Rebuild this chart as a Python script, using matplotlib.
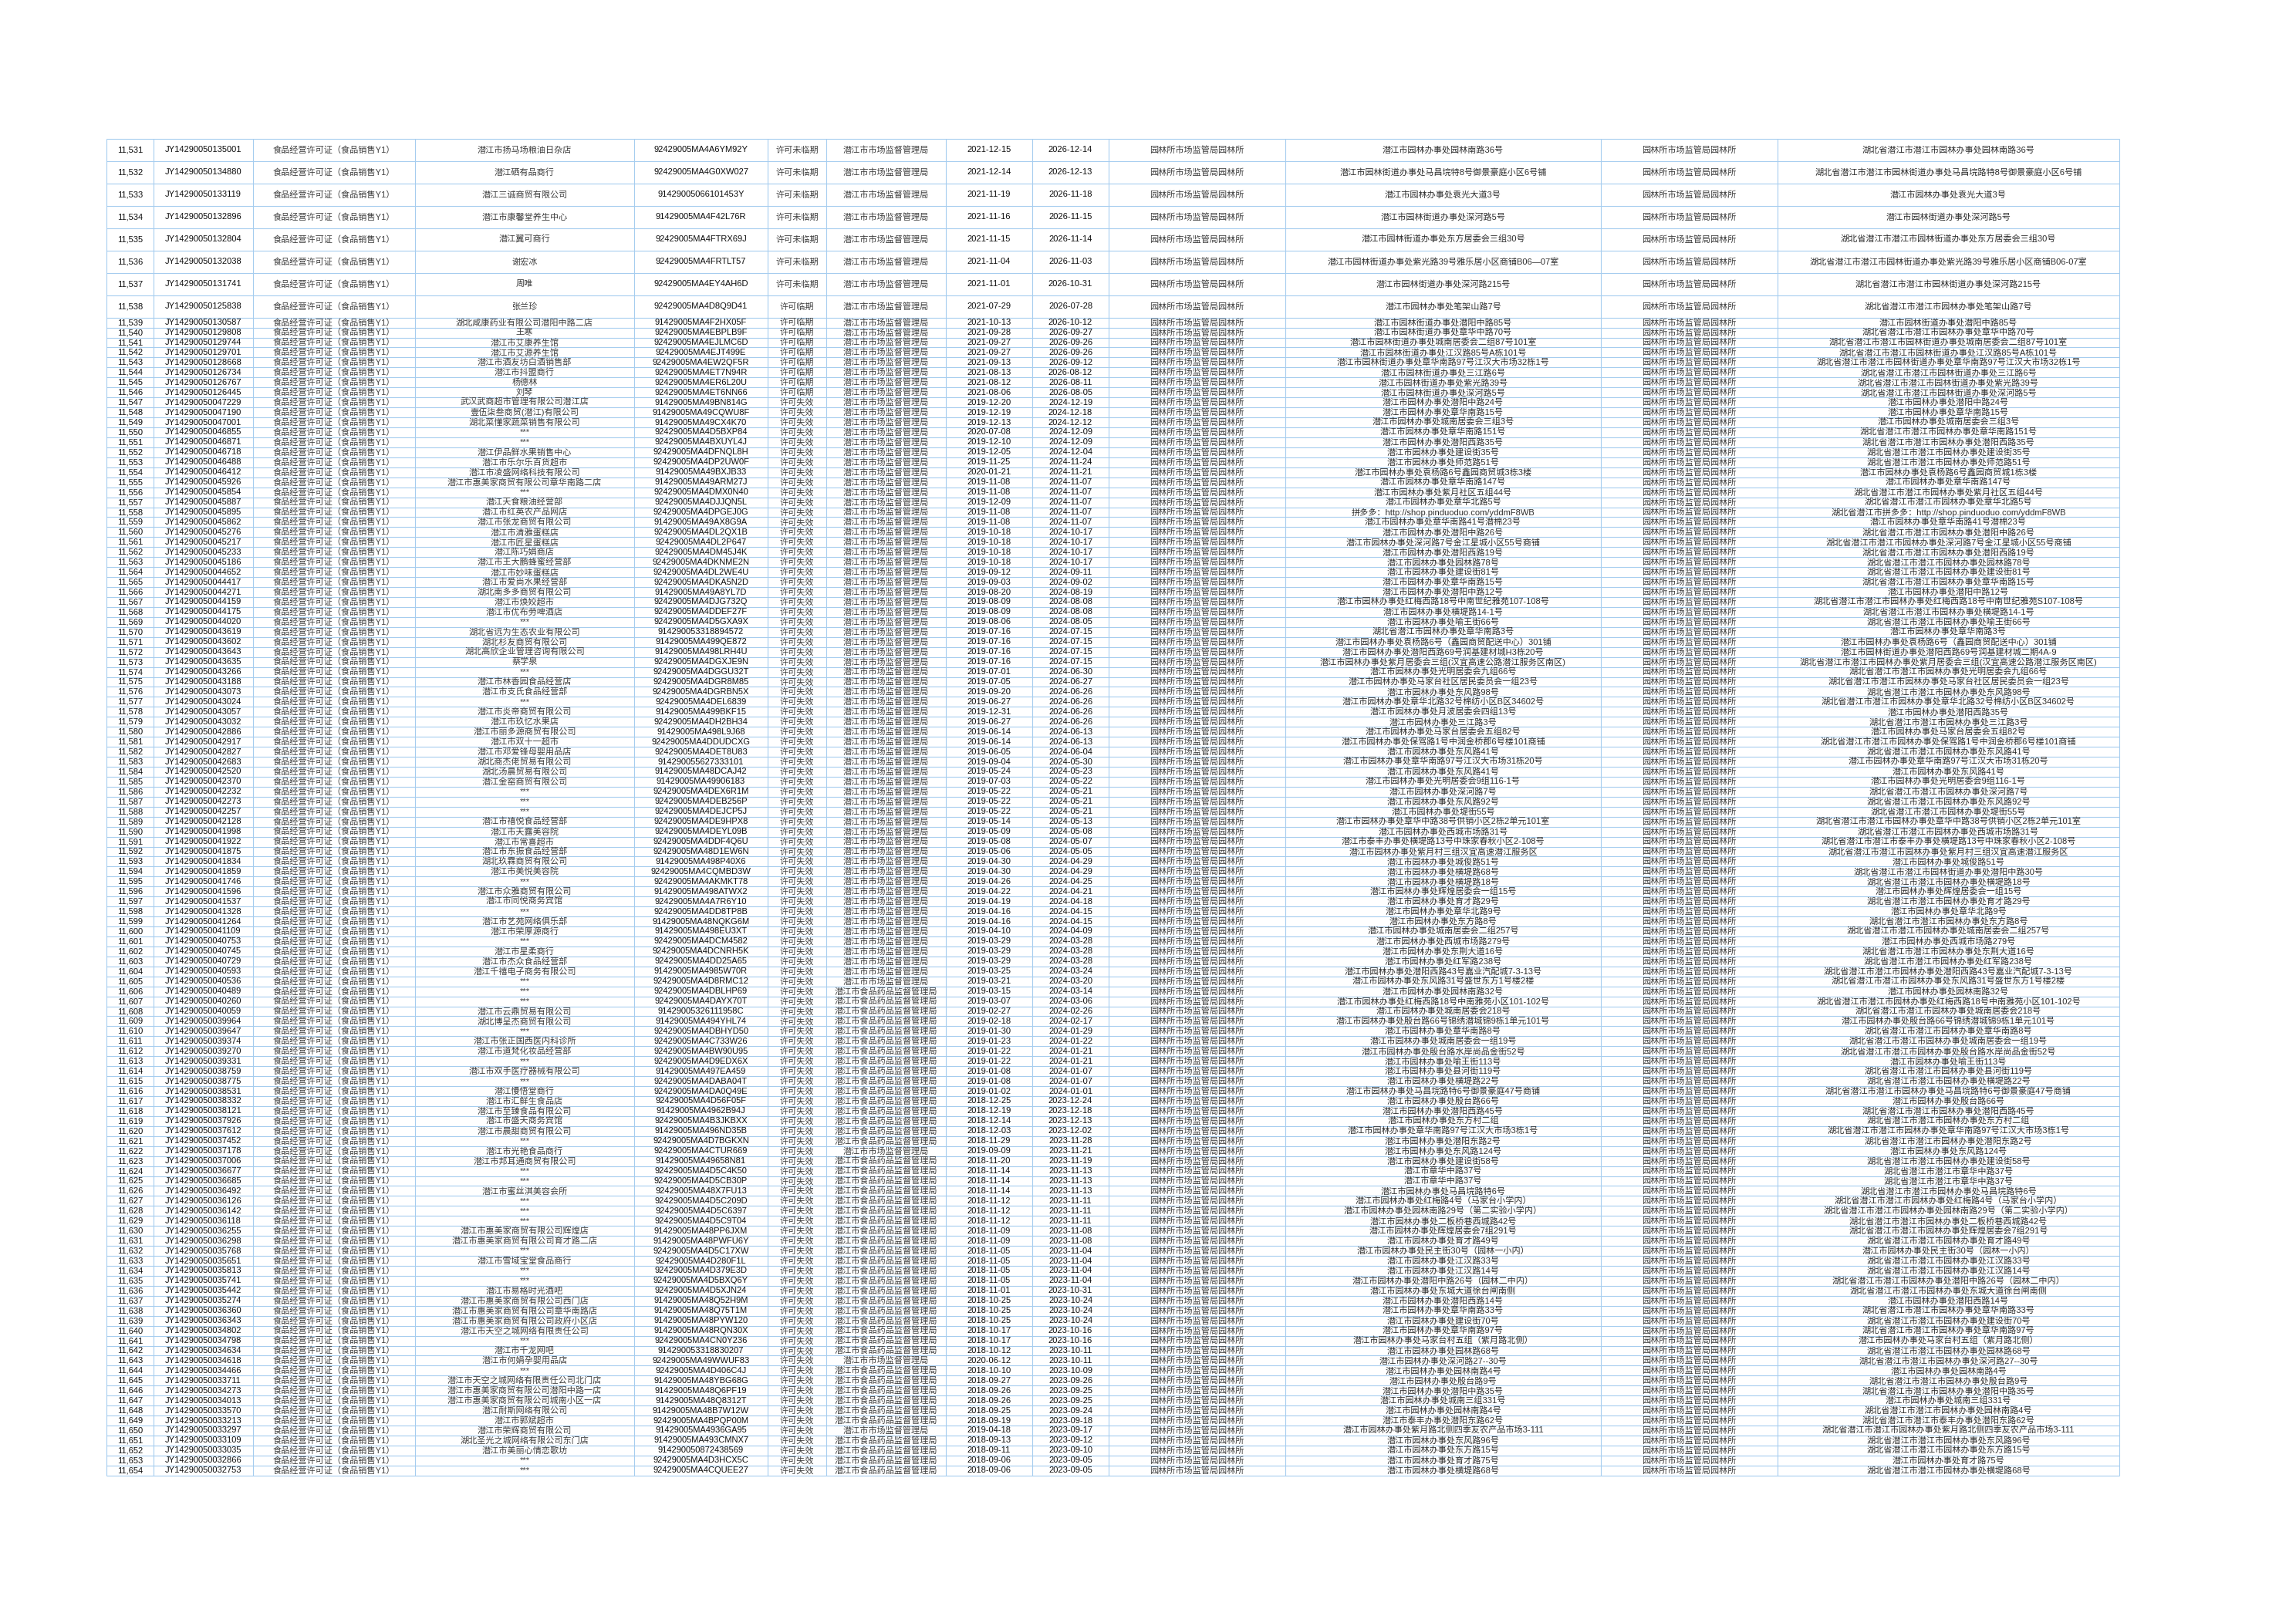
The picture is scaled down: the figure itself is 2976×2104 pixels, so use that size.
import matplotlib
matplotlib.use("Agg")
import matplotlib.pyplot as plt

first_no = 11531

licence_no = [
    "JY14290050135001", "JY14290050134880", "JY14290050133119", "JY14290050132896",
    "JY14290050132804", "JY14290050132038", "JY14290050131741", "JY14290050125838",
    "JY14290050130587", "JY14290050129808", "JY14290050129744", "JY14290050129701",
    "JY14290050128668", "JY14290050126734", "JY14290050126767", "JY14290050126445",
    "JY14290050047229", "JY14290050047190", "JY14290050047001", "JY14290050046855",
    "JY14290050046871", "JY14290050046718", "JY14290050046488", "JY14290050046412",
    "JY14290050045926", "JY14290050045854", "JY14290050045887", "JY14290050045895",
    "JY14290050045862", "JY14290050045276", "JY14290050045217", "JY14290050045233",
    "JY14290050045186", "JY14290050044652", "JY14290050044417", "JY14290050044271",
    "JY14290050044159", "JY14290050044175", "JY14290050044020", "JY14290050043619",
    "JY14290050043602", "JY14290050043643", "JY14290050043635", "JY14290050043266",
    "JY14290050043188", "JY14290050043073", "JY14290050043024", "JY14290050043057",
    "JY14290050043032", "JY14290050042886", "JY14290050042917", "JY14290050042827",
    "JY14290050042683", "JY14290050042520", "JY14290050042370", "JY14290050042232",
    "JY14290050042273", "JY14290050042257", "JY14290050042128", "JY14290050041998",
    "JY14290050041922", "JY14290050041875", "JY14290050041834", "JY14290050041859",
    "JY14290050041746", "JY14290050041596", "JY14290050041537", "JY14290050041328",
    "JY14290050041264", "JY14290050041109", "JY14290050040753", "JY14290050040745",
    "JY14290050040729", "JY14290050040593", "JY14290050040536", "JY14290050040489",
    "JY14290050040260", "JY14290050040059", "JY14290050039964", "JY14290050039647",
    "JY14290050039374", "JY14290050039270", "JY14290050039331", "JY14290050038759",
    "JY14290050038775", "JY14290050038531", "JY14290050038332", "JY14290050038121",
    "JY14290050037926", "JY14290050037612", "JY14290050037452", "JY14290050037178",
    "JY14290050037006", "JY14290050036677", "JY14290050036685", "JY14290050036492",
    "JY14290050036126", "JY14290050036142", "JY14290050036118", "JY14290050036255",
    "JY14290050036298", "JY14290050035768", "JY14290050035651", "JY14290050035813",
    "JY14290050035741", "JY14290050035442", "JY14290050035274", "JY14290050036360",
    "JY14290050036343", "JY14290050034802", "JY14290050034798", "JY14290050034634",
    "JY14290050034618", "JY14290050034466", "JY14290050033711", "JY14290050034273",
    "JY14290050034013", "JY14290050033570", "JY14290050033213", "JY14290050033297",
    "JY14290050033109", "JY14290050033035", "JY14290050032866", "JY14290050032753",
]

licence_type = "食品经营许可证（食品销售Y1）"

names = [
    "潜江市扬马场粮油日杂店", "潜江硒有品商行", "潜江三诚商贸有限公司", "潜江市康馨堂养生中心",
    "潜江翼可商行", "谢宏冰", "周唯", "张兰珍",
    "湖北咸康药业有限公司潜阳中路二店", "王寒", "潜江市艾康养生馆", "潜江市艾源养生馆",
    "潜江市酒友坊白酒销售部", "潜江市抖盟商行", "杨德林", "刘琴",
    "武汉武商超市管理有限公司潜江店", "壹伍柒叁商贸(潜江)有限公司", "湖北菜懂家蔬菜销售有限公司", "***",
    "***", "潜江伊品鲜水果销售中心", "潜江市乐尔乐百货超市", "潜江市凌盛网络科技有限公司",
    "潜江市惠美家商贸有限公司章华南路二店", "***", "潜江天食粮油经营部", "潜江市红英农产品网店",
    "潜江市张龙商贸有限公司", "潜江市清雅蛋糕店", "潜江市匠星蛋糕店", "潜江陈巧娟商店",
    "潜江市王大鹏蜂蜜经营部", "潜江市妙味蛋糕店", "潜江市爱尚水果经营部", "湖北南多多商贸有限公司",
    "潜江市焕姣超市", "潜江市优布劳啤酒店", "***", "湖北省远为生态农业有限公司",
    "湖北杉友商贸有限公司", "湖北高欣企业管理咨询有限公司", "蔡学泉", "***",
    "潜江市林香园食品经营店", "潜江市支氏食品经营部", "***", "潜江市炎帝商贸有限公司",
    "潜江市玖忆水果店", "潜江市丽多源商贸有限公司", "潜江市双十一超市", "潜江市邓爱锋母婴用品店",
    "湖北商杰佬贸易有限公司", "湖北汤晨贸易有限公司", "潜江金窑商贸有限公司", "***",
    "***", "***", "潜江市禧悦食品经营部", "潜江市天露美容院",
    "潜江市常喜超市", "潜江市东振食品经营部", "湖北玖霖商贸有限公司", "潜江市美悦美容院",
    "***", "潜江市众雅商贸有限公司", "潜江市同悦商务宾馆", "***",
    "潜江市艺苑网络俱乐部", "潜江市荣厚源商行", "***", "潜江市星柔商行",
    "潜江市杰众食品经营部", "潜江千禧电子商务有限公司", "***", "***",
    "***", "潜江市云鼎贸易有限公司", "湖北博呈杰商贸有限公司", "***",
    "潜江市张正国西医内科诊所", "潜江市道梵化妆品经营部", "***", "潜江市双手医疗器械有限公司",
    "***", "潜江慢悟堂商行", "潜江市汇鲜生食品店", "潜江市至臻食品有限公司",
    "潜江市盛天商务宾馆", "潜江市晨甜商贸有限公司", "***", "潜江市光艳食品商行",
    "潜江市邦耳通商贸有限公司", "***", "***", "潜江市蜜丝淇美容会所",
    "***", "***", "***", "潜江市惠美家商贸有限公司辉煌店",
    "潜江市惠美家商贸有限公司育才路二店", "***", "潜江市雪域宝堂食品商行", "***",
    "***", "潜江市易格时光酒吧", "潜江市惠美家商贸有限公司西门店", "潜江市惠美家商贸有限公司章华南路店",
    "潜江市惠美家商贸有限公司政府小区店", "潜江市天空之城网络有限责任公司", "***", "潜江市千龙网吧",
    "潜江市何娟孕婴用品店", "***", "潜江市天空之城网络有限责任公司北门店", "潜江市惠美家商贸有限公司潜阳中路一店",
    "潜江市惠美家商贸有限公司城南小区一店", "潜江耐斯网络有限公司", "潜江市郭斌超市", "潜江市荣辉商贸有限公司",
    "湖北圣光之城网络有限公司东门店", "潜江市美丽心情恋歌坊", "***", "***",
]

credit_code = [
    "92429005MA4A6YM92Y", "92429005MA4G0XW027", "91429005066101453Y", "91429005MA4F42L76R",
    "92429005MA4FTRX69J", "92429005MA4FRTLT57", "92429005MA4EY4AH6D", "92429005MA4D8Q9D41",
    "91429005MA4F2HX05F", "92429005MA4EBPLB9F", "92429005MA4EJLMC6D", "92429005MA4EJT499E",
    "92429005MA4EW2QF5R", "92429005MA4ET7N94R", "92429005MA4ER6L20U", "92429005MA4ET6NN66",
    "91429005MA49BN814G", "91429005MA49CQWU8F", "91429005MA49CX4K70", "92429005MA4D5BXP84",
    "92429005MA4BXUYL4J", "92429005MA4DFNQL8H", "92429005MA4DP2UW0F", "91429005MA49BXJB33",
    "91429005MA49ARM27J", "92429005MA4DMX0N40", "92429005MA4DJJQN5L", "92429005MA4DPGEJ0G",
    "91429005MA49AX8G9A", "92429005MA4DL2QX1B", "92429005MA4DL2P647", "92429005MA4DM45J4K",
    "92429005MA4DKNME2N", "92429005MA4DL2WE4U", "92429005MA4DKA5N2D", "91429005MA49A8YL7D",
    "92429005MA4DJG732Q", "92429005MA4DDEF27F", "92429005MA4D5GXA9X", "914290053318894572",
    "91429005MA499QE872", "91429005MA498LRH4U", "92429005MA4DGXJE9N", "92429005MA4DGGU32T",
    "92429005MA4DGR8M85", "92429005MA4DGRBN5X", "92429005MA4DEL6839", "91429005MA499BKF15",
    "92429005MA4DH2BH34", "91429005MA498L9J68", "92429005MA4DDUDCXG", "92429005MA4DET8U83",
    "914290055627333101", "91429005MA48DCAJ42", "91429005MA49906183", "92429005MA4DEX6R1M",
    "92429005MA4DEB256P", "92429005MA4DEJCP5J", "92429005MA4DE9HPX8", "92429005MA4DEYL09B",
    "92429005MA4DDF4Q6U", "92429005MA48D1EW6N", "91429005MA498P40X6", "92429005MA4CQMBD3W",
    "92429005MA4AKMKT78", "91429005MA498ATWX2", "92429005MA4A7R6Y10", "92429005MA4DD8TP8B",
    "91429005MA48NQKG6M", "91429005MA498EU3XT", "92429005MA4DCM4582", "92429005MA4DCNRH5K",
    "92429005MA4DD25A65", "91429005MA4985W70R", "92429005MA4D8RMC12", "92429005MA4DBLHP69",
    "92429005MA4DAYX70T", "91429005326111958C", "91429005MA494YHL74", "92429005MA4DBHYD50",
    "92429005MA4C733W26", "92429005MA4BW90U95", "92429005MA4D9EDX6X", "91429005MA497EA459",
    "92429005MA4DABA04T", "92429005MA4DA0Q49E", "92429005MA4D56F05F", "91429005MA4962B94J",
    "92429005MA4B3JKBXX", "91429005MA496ND35B", "92429005MA4D7BGKXN", "92429005MA4CTUR669",
    "91429005MA49658N81", "92429005MA4D5C4K50", "92429005MA4D5CB30P", "92429005MA48X7FU13",
    "92429005MA4D5C209D", "92429005MA4D5C6397", "92429005MA4D5C9T04", "91429005MA48PP6JXM",
    "91429005MA48PWFU6Y", "92429005MA4D5C17XW", "92429005MA4D280F1L", "92429005MA4D379E3D",
    "92429005MA4D5BXQ6Y", "92429005MA4D5XJN24", "91429005MA48Q52H9M", "91429005MA48Q75T1M",
    "91429005MA48PYW120", "91429005MA48RQN30X", "92429005MA4CN0Y236", "914290053318830207",
    "92429005MA49WWUF83", "92429005MA4D406C4J", "91429005MA48YBG68G", "91429005MA48Q6PF19",
    "91429005MA48Q8312T", "91429005MA48B7W12W", "92429005MA4BPQP00M", "91429005MA4936GA95",
    "91429005MA493CMNX7", "914290050872438569", "92429005MA4D3HCX5C", "92429005MA4CQUEE27",
]

status = ["许可未临期"] * 7 + ["许可临期"] * 9 + ["许可失效"] * 108

SCJ = "潜江市市场监督管理局"
SYJ = "潜江市食品药品监督管理局"
authority = ([SCJ] * 75 + [SYJ] * 16 + [SCJ] + [SYJ] * 20 + [SCJ]
             + [SYJ] * 6 + [SCJ] + [SYJ] * 4)

start_date = [
    "2021-12-15", "2021-12-14", "2021-11-19", "2021-11-16", "2021-11-15", "2021-11-04",
    "2021-11-01", "2021-07-29",
    "2021-10-13", "2021-09-28", "2021-09-27", "2021-09-27", "2021-09-13", "2021-08-13",
    "2021-08-12", "2021-08-06", "2019-12-20", "2019-12-19", "2019-12-13", "2020-07-08",
    "2019-12-10", "2019-12-05", "2019-11-25", "2020-01-21", "2019-11-08", "2019-11-08",
    "2019-12-09", "2019-11-08", "2019-11-08", "2019-10-18", "2019-10-18", "2019-10-18",
    "2019-10-18", "2019-09-12", "2019-09-03", "2019-08-20", "2019-08-09", "2019-08-09",
    "2019-08-06", "2019-07-16", "2019-07-16", "2019-07-16", "2019-07-16", "2019-07-01",
    "2019-07-05", "2019-09-20", "2019-06-27", "2019-12-31", "2019-06-27", "2019-06-14",
    "2019-06-14", "2019-06-05", "2019-09-04", "2019-05-24", "2019-07-03", "2019-05-22",
    "2019-05-22", "2019-05-22", "2019-05-14", "2019-05-09", "2019-05-08", "2019-05-06",
    "2019-04-30", "2019-04-30", "2019-04-26", "2019-04-22",
    "2019-04-19", "2019-04-16", "2019-04-16", "2019-04-10", "2019-03-29", "2019-03-29",
    "2019-03-29", "2019-03-25", "2019-03-21", "2019-03-15", "2019-03-07", "2019-02-27",
    "2019-02-18", "2019-01-30", "2019-01-23", "2019-01-22", "2019-01-22", "2019-01-08",
    "2019-01-08", "2019-01-02", "2018-12-25", "2018-12-19", "2018-12-14", "2018-12-03",
    "2018-11-29", "2019-09-09", "2018-11-20", "2018-11-14", "2018-11-14", "2018-11-14",
    "2018-11-12", "2018-11-12", "2018-11-12", "2018-11-09", "2018-11-09", "2018-11-05",
    "2018-11-05", "2018-11-05", "2018-11-05", "2018-11-01", "2018-10-25", "2018-10-25",
    "2018-10-25", "2018-10-17", "2018-10-17", "2018-10-12", "2020-06-12", "2018-10-10",
    "2018-09-27", "2018-09-26", "2018-09-26", "2018-09-25", "2018-09-19", "2019-04-18",
    "2018-09-13", "2018-09-11", "2018-09-06", "2018-09-06",
]

end_date = [
    "2026-12-14", "2026-12-13", "2026-11-18", "2026-11-15", "2026-11-14", "2026-11-03",
    "2026-10-31", "2026-07-28",
    "2026-10-12", "2026-09-27", "2026-09-26", "2026-09-26", "2026-09-12", "2026-08-12",
    "2026-08-11", "2026-08-05", "2024-12-19", "2024-12-18", "2024-12-12", "2024-12-09",
    "2024-12-09", "2024-12-04", "2024-11-24", "2024-11-21", "2024-11-07", "2024-11-07",
    "2024-11-07", "2024-11-07", "2024-11-07", "2024-10-17", "2024-10-17", "2024-10-17",
    "2024-10-17", "2024-09-11", "2024-09-02", "2024-08-19", "2024-08-08", "2024-08-08",
    "2024-08-05", "2024-07-15", "2024-07-15", "2024-07-15", "2024-07-15", "2024-06-30",
    "2024-06-27", "2024-06-26", "2024-06-26", "2024-06-26", "2024-06-26", "2024-06-13",
    "2024-06-13", "2024-06-04", "2024-05-30", "2024-05-23", "2024-05-22", "2024-05-21",
    "2024-05-21", "2024-05-21", "2024-05-13", "2024-05-08", "2024-05-07", "2024-05-05",
    "2024-04-29", "2024-04-29", "2024-04-25", "2024-04-21",
    "2024-04-18", "2024-04-15", "2024-04-15", "2024-04-09", "2024-03-28", "2024-03-28",
    "2024-03-28", "2024-03-24", "2024-03-20", "2024-03-14", "2024-03-06", "2024-02-26",
    "2024-02-17", "2024-01-29", "2024-01-22", "2024-01-21", "2024-01-21", "2024-01-07",
    "2024-01-07", "2024-01-01", "2023-12-24", "2023-12-18", "2023-12-13", "2023-12-02",
    "2023-11-28", "2023-11-21", "2023-11-19", "2023-11-13", "2023-11-13", "2023-11-13",
    "2023-11-11", "2023-11-11", "2023-11-11", "2023-11-08", "2023-11-08", "2023-11-04",
    "2023-11-04", "2023-11-04", "2023-11-04", "2023-10-31", "2023-10-24", "2023-10-24",
    "2023-10-24", "2023-10-16", "2023-10-16", "2023-10-11", "2023-10-11", "2023-10-09",
    "2023-09-26", "2023-09-25", "2023-09-25", "2023-09-24", "2023-09-18", "2023-09-17",
    "2023-09-12", "2023-09-10", "2023-09-05", "2023-09-05",
]

office = "园林所市场监管局园林所"

address = [
    "潜江市园林办事处园林南路36号",
    "潜江市园林街道办事处马昌垸特8号御景豪庭小区6号铺",
    "潜江市园林办事处袁光大道3号",
    "潜江市园林街道办事处深河路5号",
    "潜江市园林街道办事处东方居委会三组30号",
    "潜江市园林街道办事处紫光路39号雅乐居小区商铺B06—07室",
    "潜江市园林街道办事处深河路215号",
    "潜江市园林办事处笔架山路7号",
    "潜江市园林街道办事处潜阳中路85号",
    "潜江市园林街道办事处章华中路70号",
    "潜江市园林街道办事处城南居委会二组87号101室",
    "潜江市园林街道办事处江汉路85号A栋101号",
    "潜江市园林街道办事处章华南路97号江汉大市场32栋1号",
    "潜江市园林街道办事处三江路6号",
    "潜江市园林街道办事处紫光路39号",
    "潜江市园林街道办事处深河路5号",
    "潜江市园林办事处潜阳中路24号",
    "潜江市园林办事处章华南路15号",
    "潜江市园林办事处城南居委会三组3号",
    "潜江市园林办事处章华南路151号",
    "潜江市园林办事处潜阳西路35号",
    "潜江市园林办事处建设街35号",
    "潜江市园林办事处师范路51号",
    "潜江市园林办事处袁杨路6号鑫园商贸城3栋3楼",
    "潜江市园林办事处章华南路147号",
    "潜江市园林办事处紫月社区五组44号",
    "潜江市园林办事处章华北路5号",
    "拼多多：http://shop.pinduoduo.com/yddmF8WB",
    "潜江市园林办事处章华南路41号潜棉23号",
    "潜江市园林办事处潜阳中路26号",
    "潜江市园林办事处深河路7号金江星城小区55号商铺",
    "潜江市园林办事处潜阳西路19号",
    "潜江市园林办事处园林路78号",
    "潜江市园林办事处建设街81号",
    "潜江市园林办事处章华南路15号",
    "潜江市园林办事处潜阳中路12号",
    "潜江市园林办事处红梅西路18号中南世纪雅苑107-108号",
    "潜江市园林办事处横堤路14-1号",
    "潜江市园林办事处喻王街66号",
    "湖北省潜江市园林办事处章华南路3号",
    "潜江市园林办事处袁杨路6号（鑫园商贸配送中心）301铺",
    "潜江市园林办事处潜阳西路69号润基建材城H3栋20号",
    "潜江市园林办事处紫月居委会三组(汉宜高速公路潜江服务区南区)",
    "潜江市园林办事处光明居委会九组66号",
    "潜江市园林办事处马家台社区居民委员会一组23号",
    "潜江市园林办事处东风路98号",
    "潜江市园林办事处章华北路32号棉纺小区B区34602号",
    "潜江市园林办事处月波居委会四组13号",
    "潜江市园林办事处三江路3号",
    "潜江市园林办事处马家台居委会五组82号",
    "潜江市园林办事处保驾路1号中润金桥郡6号楼101商铺",
    "潜江市园林办事处东风路41号",
    "潜江市园林办事处章华南路97号江汉大市场31栋20号",
    "潜江市园林办事处东风路41号",
    "潜江市园林办事处光明居委会9组116-1号",
    "潜江市园林办事处深河路7号",
    "潜江市园林办事处东风路92号",
    "潜江市园林办事处堤街55号",
    "潜江市园林办事处章华中路38号供销小区2栋2单元101室",
    "潜江市园林办事处西城市场路31号",
    "潜江市泰丰办事处横堤路13号中珠家春秋小区2-108号",
    "潜江市园林办事处紫月村三组汉宜高速潜江服务区",
    "潜江市园林办事处城俊路51号",
    "潜江市园林办事处横堤路68号",
    "潜江市园林办事处横堤路18号",
    "潜江市园林办事处辉煌居委会一组15号",
    "潜江市园林办事处育才路29号",
    "潜江市园林办事处章华北路9号",
    "潜江市园林办事处东方路8号",
    "潜江市园林办事处城南居委会二组257号",
    "潜江市园林办事处西城市场路279号",
    "潜江市园林办事处东荆大道16号",
    "潜江市园林办事处红军路238号",
    "潜江市园林办事处潜阳西路43号嘉业汽配城7-3-13号",
    "潜江市园林办事处东风路31号盛世东方1号楼2楼",
    "潜江市园林办事处园林南路32号",
    "潜江市园林办事处红梅西路18号中南雅苑小区101-102号",
    "潜江市园林办事处城南居委会218号",
    "潜江市园林办事处殷台路66号锦绣潜城锦9栋1单元101号",
    "潜江市园林办事处章华南路8号",
    "潜江市园林办事处城南居委会一组19号",
    "潜江市园林办事处殷台路水岸尚品金街52号",
    "潜江市园林办事处喻王街113号",
    "潜江市园林办事处县河街119号",
    "潜江市园林办事处横堤路22号",
    "潜江市园林办事处马昌垸路特6号御景豪庭47号商铺",
    "潜江市园林办事处殷台路66号",
    "潜江市园林办事处潜阳西路45号",
    "潜江市园林办事处东方村二组",
    "潜江市园林办事处章华南路97号江汉大市场3栋1号",
    "潜江市园林办事处潜阳东路2号",
    "潜江市园林办事处东风路124号",
    "潜江市园林办事处建设街58号",
    "潜江市章华中路37号",
    "潜江市章华中路37号",
    "潜江市园林办事处马昌垸路特6号",
    "潜江市园林办事处红梅路4号（马家台小学内）",
    "潜江市园林办事处园林南路29号（第二实验小学内）",
    "潜江市园林办事处二板桥巷西城路42号",
    "潜江市园林办事处辉煌居委会7组291号",
    "潜江市园林办事处育才路49号",
    "潜江市园林办事处民主街30号（园林一小内）",
    "潜江市园林办事处江汉路33号",
    "潜江市园林办事处江汉路14号",
    "潜江市园林办事处潜阳中路26号（园林二中内）",
    "潜江市园林办事处东城大道徐台闸南侧",
    "潜江市园林办事处潜阳西路14号",
    "潜江市园林办事处章华南路33号",
    "潜江市园林办事处建设街70号",
    "潜江市园林办事处章华南路97号",
    "潜江市园林办事处马家台村五组（紫月路北侧）",
    "潜江市园林办事处园林路68号",
    "潜江市园林办事处深河路27--30号",
    "潜江市园林办事处园林南路4号",
    "潜江市园林办事处殷台路9号",
    "潜江市园林办事处潜阳中路35号",
    "潜江市园林办事处城南三组331号",
    "潜江市园林办事处园林南路4号",
    "潜江市泰丰办事处潜阳东路62号",
    "潜江市园林办事处紫月路北侧四季友农产品市场3-111",
    "潜江市园林办事处东风路96号",
    "潜江市园林办事处东方路15号",
    "潜江市园林办事处育才路75号",
    "潜江市园林办事处横堤路68号",
]

full_address = [
    "湖北省潜江市潜江市园林办事处园林南路36号",
    "湖北省潜江市潜江市园林街道办事处马昌垸路特8号御景豪庭小区6号铺",
    "潜江市园林办事处袁光大道3号",
    "潜江市园林街道办事处深河路5号",
    "湖北省潜江市潜江市园林街道办事处东方居委会三组30号",
    "湖北省潜江市潜江市园林街道办事处紫光路39号雅乐居小区商铺B06-07室",
    "湖北省潜江市潜江市园林街道办事处深河路215号",
    "湖北省潜江市潜江市园林办事处笔架山路7号",
    "潜江市园林街道办事处潜阳中路85号",
    "湖北省潜江市潜江市园林办事处章华中路70号",
    "湖北省潜江市潜江市园林街道办事处城南居委会二组87号101室",
    "湖北省潜江市潜江市园林街道办事处江汉路85号A栋101号",
    "湖北省潜江市潜江市园林街道办事处章华南路97号江汉大市场32栋1号",
    "湖北省潜江市潜江市园林街道办事处三江路6号",
    "湖北省潜江市潜江市园林街道办事处紫光路39号",
    "湖北省潜江市潜江市园林街道办事处深河路5号",
    "潜江市园林办事处潜阳中路24号",
    "潜江市园林办事处章华南路15号",
    "潜江市园林办事处城南居委会三组3号",
    "湖北省潜江市潜江市园林办事处章华南路151号",
    "湖北省潜江市潜江市园林办事处潜阳西路35号",
    "湖北省潜江市潜江市园林办事处建设街35号",
    "湖北省潜江市潜江市园林办事处师范路51号",
    "潜江市园林办事处袁杨路6号鑫园商贸城1栋3楼",
    "潜江市园林办事处章华南路147号",
    "湖北省潜江市潜江市园林办事处紫月社区五组44号",
    "湖北省潜江市潜江市园林办事处章华北路5号",
    "湖北省潜江市拼多多：http://shop.pinduoduo.com/yddmF8WB",
    "潜江市园林办事处章华南路41号潜棉23号",
    "湖北省潜江市潜江市园林办事处潜阳中路26号",
    "湖北省潜江市潜江市园林办事处深河路7号金江星城小区55号商铺",
    "湖北省潜江市潜江市园林办事处潜阳西路19号",
    "湖北省潜江市潜江市园林办事处园林路78号",
    "湖北省潜江市潜江市园林办事处建设街81号",
    "湖北省潜江市潜江市园林办事处章华南路15号",
    "潜江市园林办事处潜阳中路12号",
    "湖北省潜江市潜江市园林办事处红梅西路18号中南世纪雅苑S107-108号",
    "湖北省潜江市潜江市园林办事处横堤路14-1号",
    "湖北省潜江市潜江市园林办事处喻王街66号",
    "潜江市园林办事处章华南路3号",
    "潜江市园林办事处袁杨路6号（鑫园商贸配送中心）301铺",
    "潜江市园林街道办事处潜阳西路69号润基建材城二期4A-9",
    "湖北省潜江市潜江市园林办事处紫月居委会三组(汉宜高速公路潜江服务区南区)",
    "湖北省潜江市潜江市园林办事处光明居委会九组66号",
    "湖北省潜江市潜江市园林办事处马家台社区居民委员会一组23号",
    "湖北省潜江市潜江市园林办事处东风路98号",
    "湖北省潜江市潜江市园林办事处章华北路32号棉纺小区B区34602号",
    "潜江市园林办事处潜阳西路35号",
    "湖北省潜江市潜江市园林办事处三江路3号",
    "潜江市园林办事处马家台居委会五组82号",
    "湖北省潜江市潜江市园林办事处保驾路1号中润金桥郡6号楼101商铺",
    "湖北省潜江市潜江市园林办事处东风路41号",
    "潜江市园林办事处章华南路97号江汉大市场31栋20号",
    "潜江市园林办事处东风路41号",
    "潜江市园林办事处光明居委会9组116-1号",
    "湖北省潜江市潜江市园林办事处深河路7号",
    "湖北省潜江市潜江市园林办事处东风路92号",
    "湖北省潜江市潜江市园林办事处堤街55号",
    "湖北省潜江市潜江市园林办事处章华中路38号供销小区2栋2单元101室",
    "湖北省潜江市潜江市园林办事处西城市场路31号",
    "湖北省潜江市潜江市泰丰办事处横堤路13号中珠家春秋小区2-108号",
    "湖北省潜江市潜江市园林办事处紫月村三组汉宜高速潜江服务区",
    "潜江市园林办事处城俊路51号",
    "湖北省潜江市潜江市园林街道办事处潜阳中路30号",
    "湖北省潜江市潜江市园林办事处横堤路18号",
    "潜江市园林办事处辉煌居委会一组15号",
    "湖北省潜江市潜江市园林办事处育才路29号",
    "潜江市园林办事处章华北路9号",
    "湖北省潜江市潜江市园林办事处东方路8号",
    "湖北省潜江市潜江市园林办事处城南居委会二组257号",
    "潜江市园林办事处西城市场路279号",
    "湖北省潜江市潜江市园林办事处东荆大道16号",
    "湖北省潜江市潜江市园林办事处红军路238号",
    "湖北省潜江市潜江市园林办事处潜阳西路43号嘉业汽配城7-3-13号",
    "湖北省潜江市潜江市园林办事处东风路31号盛世东方1号楼2楼",
    "潜江市园林办事处园林南路32号",
    "湖北省潜江市潜江市园林办事处红梅西路18号中南雅苑小区101-102号",
    "湖北省潜江市潜江市园林办事处城南居委会218号",
    "潜江市园林办事处殷台路66号锦绣潜城锦9栋1单元101号",
    "湖北省潜江市潜江市园林办事处章华南路8号",
    "湖北省潜江市潜江市园林办事处城南居委会一组19号",
    "湖北省潜江市潜江市园林办事处殷台路水岸尚品金街52号",
    "潜江市园林办事处喻王街113号",
    "湖北省潜江市潜江市园林办事处县河街119号",
    "湖北省潜江市潜江市园林办事处横堤路22号",
    "湖北省潜江市潜江市园林办事处马昌垸路特6号御景豪庭47号商铺",
    "潜江市园林办事处殷台路66号",
    "湖北省潜江市潜江市园林办事处潜阳西路45号",
    "湖北省潜江市潜江市园林办事处东方村二组",
    "湖北省潜江市潜江市园林办事处章华南路97号江汉大市场3栋1号",
    "湖北省潜江市潜江市园林办事处潜阳东路2号",
    "潜江市园林办事处东风路124号",
    "湖北省潜江市潜江市园林办事处建设街58号",
    "湖北省潜江市潜江市章华中路37号",
    "湖北省潜江市潜江市章华中路37号",
    "湖北省潜江市潜江市园林办事处马昌垸路特6号",
    "湖北省潜江市潜江市园林办事处红梅路4号（马家台小学内）",
    "湖北省潜江市潜江市园林办事处园林南路29号（第二实验小学内）",
    "湖北省潜江市潜江市园林办事处二板桥巷西城路42号",
    "湖北省潜江市潜江市园林办事处辉煌居委会7组291号",
    "湖北省潜江市潜江市园林办事处育才路49号",
    "潜江市园林办事处民主街30号（园林一小内）",
    "湖北省潜江市潜江市园林办事处江汉路33号",
    "湖北省潜江市潜江市园林办事处江汉路14号",
    "湖北省潜江市潜江市园林办事处潜阳中路26号（园林二中内）",
    "湖北省潜江市潜江市园林办事处东城大道徐台闸南侧",
    "潜江市园林办事处潜阳西路14号",
    "湖北省潜江市潜江市园林办事处章华南路33号",
    "湖北省潜江市潜江市园林办事处建设街70号",
    "湖北省潜江市潜江市园林办事处章华南路97号",
    "潜江市园林办事处马家台村五组（紫月路北侧）",
    "湖北省潜江市潜江市园林办事处园林路68号",
    "湖北省潜江市潜江市园林办事处深河路27--30号",
    "潜江市园林办事处园林南路4号",
    "湖北省潜江市潜江市园林办事处殷台路9号",
    "湖北省潜江市潜江市园林办事处潜阳中路35号",
    "潜江市园林办事处城南三组331号",
    "湖北省潜江市潜江市园林办事处园林南路4号",
    "湖北省潜江市潜江市泰丰办事处潜阳东路62号",
    "湖北省潜江市潜江市园林办事处紫月路北侧四季友农产品市场3-111",
    "湖北省潜江市潜江市园林办事处东风路96号",
    "湖北省潜江市潜江市园林办事处东方路15号",
    "潜江市园林办事处育才路75号",
    "湖北省潜江市潜江市园林办事处横堤路68号",
]

n_rows = len(licence_no)
for col in (names, credit_code, status, authority, start_date, end_date, address, full_address):
    assert len(col) == n_rows, len(col)

row_labels = [f"{first_no + i:,}" for i in range(n_rows)]

# ---- layout (pixel units of the 2976x2104 canvas) ----
W, H = 2976, 2104
col_edges = [138, 199, 328, 538, 822, 995, 1071, 1226, 1338, 1437, 1666, 2075, 2304, 2747]
table_top = 180
n_tall, tall_h, short_h = 8, 28.96, 12.94

row_edges = [table_top]
for i in range(n_rows):
    row_edges.append(row_edges[-1] + (tall_h if i < n_tall else short_h))

GRID = "#a6cdef"
FAM = ["Liberation Sans", "Noto Sans CJK SC", "DejaVu Sans"]
FS = 8.0

fig = plt.figure(figsize=(W / 100, H / 100), dpi=100)
fig.patch.set_facecolor("white")
ax = fig.add_axes([0, 0, 1, 1])
ax.set_xlim(0, W)
ax.set_ylim(H, 0)
ax.axis("off")

ax.hlines(row_edges, col_edges[0], col_edges[-1], color=GRID, lw=0.8)
ax.vlines(col_edges, row_edges[0], row_edges[-1], color=GRID, lw=0.8)

DARK, GREY = "#0d0d0d", "#3d3d3d"
columns = [
    (row_labels, DARK),
    (licence_no, DARK),
    ([licence_type] * n_rows, GREY),
    (names, GREY),
    (credit_code, DARK),
    (status, GREY),
    (authority, GREY),
    (start_date, DARK),
    (end_date, DARK),
    ([office] * n_rows, GREY),
    (address, "#2e2e2e"),
    ([office] * n_rows, GREY),
    (full_address, "#2e2e2e"),
]

for c, (values, color) in enumerate(columns):
    xc = (col_edges[c] + col_edges[c + 1]) / 2
    for r, s in enumerate(values):
        yc = (row_edges[r] + row_edges[r + 1]) / 2
        ax.text(xc, yc, s, ha="center", va="center", fontsize=FS,
                family=FAM, color=color)

fig.savefig("out.png", dpi=100, facecolor="white")
